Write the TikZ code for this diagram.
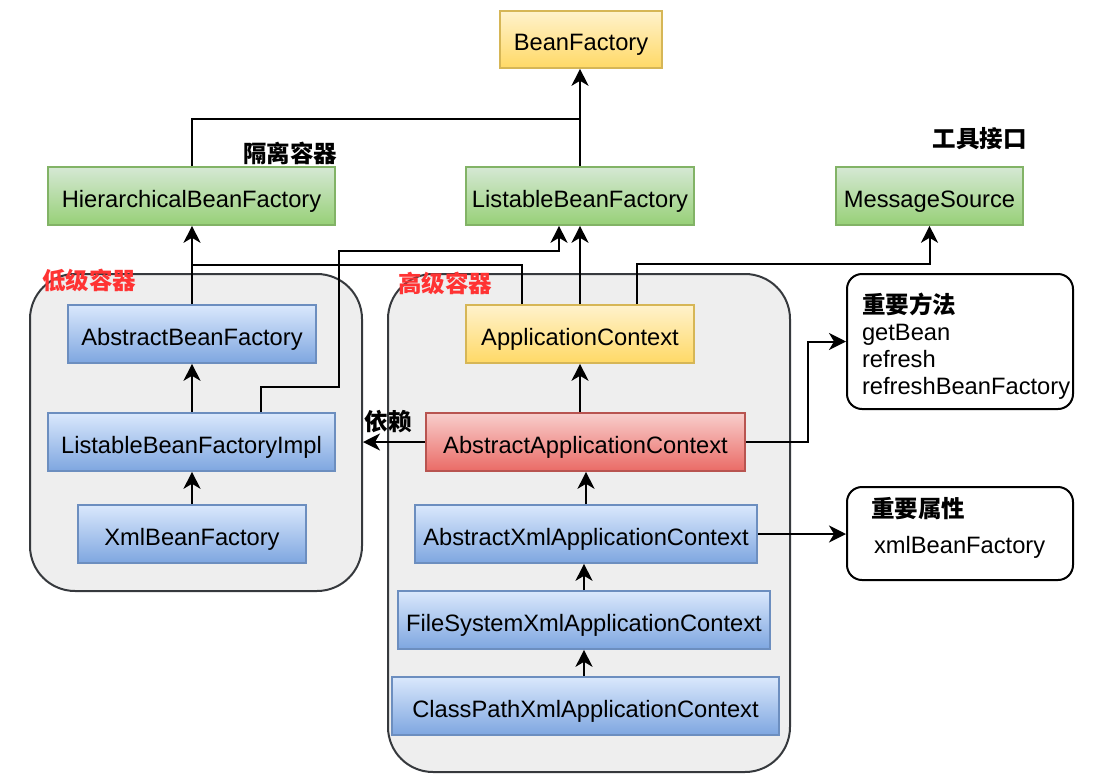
\documentclass[tikz,border=0pt]{standalone}
\usepackage{fontspec}
\setmainfont{Liberation Sans}
\newfontfamily\cjk{Noto Sans CJK SC}
\usetikzlibrary{arrows.meta}
\definecolor{ylwA}{HTML}{FFF2CC}\definecolor{ylwB}{HTML}{FFD966}\definecolor{ylwD}{HTML}{D6B656}
\definecolor{grnA}{HTML}{D5E8D4}\definecolor{grnB}{HTML}{97D077}\definecolor{grnD}{HTML}{82B366}
\definecolor{bluA}{HTML}{DAE8FC}\definecolor{bluB}{HTML}{7EA6E0}\definecolor{bluD}{HTML}{6C8EBF}
\definecolor{redA}{HTML}{F8CECC}\definecolor{redB}{HTML}{EA6B66}\definecolor{redD}{HTML}{B85450}
\definecolor{contF}{HTML}{EEEEEE}\definecolor{contD}{HTML}{36393D}
\definecolor{lblred}{HTML}{FF3333}
\begin{document}
\begin{tikzpicture}[x=1pt,y=-1pt,
  font=\fontsize{23.7}{28}\selectfont, line width=2pt,
  box/.style={draw, line width=1.6pt, inner sep=0pt, minimum height=58pt, text height=22pt, text depth=0pt},
  ybox/.style={box, top color=ylwA, bottom color=ylwB, draw=ylwD},
  gbox/.style={box, top color=grnA, bottom color=grnB, draw=grnD},
  bbox/.style={box, top color=bluA, bottom color=bluB, draw=bluD},
  rbox/.style={box, top color=redA, bottom color=redB, draw=redD},
  arr/.style={-{Stealth[length=17pt,width=17pt,inset=5pt]}, line width=2pt},
  groupbox/.style={draw=contD, fill=contF, rounded corners=45pt, line width=2pt, inner sep=0pt},
  notebox/.style={draw=black, fill=white, rounded corners=15pt, line width=2pt, inner sep=0pt},
  cjklabel/.style={font=\fontsize{23.5}{28}\selectfont\cjk\bfseries, inner sep=0pt},
  redlabel/.style={cjklabel, text=lblred},
  txt/.style={inner sep=0pt, anchor=base west}
]
\useasboundingbox (0,0) rectangle (1106,782);

% containers
\node[groupbox, minimum width=332pt, minimum height=317pt] (lowc) at (196,432.5) {};
\node[groupbox, minimum width=402pt, minimum height=498pt] (highc) at (589,523) {};

% boxes
\node[ybox, minimum width=162pt, minimum height=57pt] (bf) at (581,39.5) {BeanFactory};
\node[gbox, minimum width=287pt] (hbf) at (191.5,196) {HierarchicalBeanFactory};
\node[gbox, minimum width=228pt] (lbf) at (580,196) {ListableBeanFactory};
\node[gbox, minimum width=187pt] (ms) at (929.5,196) {MessageSource};
\node[bbox, minimum width=248pt] (abf) at (192,334) {AbstractBeanFactory};
\node[bbox, minimum width=287pt] (lbfi) at (191.5,442) {ListableBeanFactoryImpl};
\node[bbox, minimum width=228pt] (xbf) at (192,534) {XmlBeanFactory};
\node[ybox, minimum width=228pt] (ac) at (580,334) {ApplicationContext};
\node[rbox, minimum width=319pt] (aac) at (585.5,442) {AbstractApplicationContext};
\node[bbox, minimum width=342pt] (axac) at (586,534) {AbstractXmlApplicationContext};
\node[bbox, minimum width=372pt] (fsac) at (584,620) {FileSystemXmlApplicationContext};
\node[bbox, minimum width=387pt] (cpac) at (585.5,706) {ClassPathXmlApplicationContext};

% note boxes
\node[notebox, minimum width=226pt, minimum height=135pt] (methods) at (960,341.5) {};
\node[notebox, minimum width=226pt, minimum height=93pt] (props) at (960,533.5) {};

% labels
\node[cjklabel] (lblgeli) at (290,153) {隔离容器};
\node[cjklabel] (lbltool) at (979.5,139) {工具接口};
\node[redlabel] (lbllow) at (89,280) {低级容器};
\node[redlabel] (lblhigh) at (445,283) {高级容器};
\node[cjklabel] (lbldep) at (388,422) {依赖};

\node[txt, font=\fontsize{23.5}{28}\selectfont\cjk\bfseries] (m1) at (861,313) {重要方法};
\node[txt] (m2) at (861,340) {getBean};
\node[txt] (m3) at (861,367) {refresh};
\node[txt] (m4) at (861,394) {refreshBeanFactory};
\node[txt, font=\fontsize{23.5}{28}\selectfont\cjk\bfseries] (p1) at (870,517) {重要属性};
\node[txt] (p2) at (873,553) {xmlBeanFactory};

% junction coordinates
\coordinate (j1) at (580,119);
\coordinate (j2) at (192,265);
\coordinate (j3) at (637,264);

% connectors
\draw[arr] (lbf.north) -- (lbf.north |- bf.south);
\draw (hbf.north) |- (j1);
\draw[arr] (abf.north) -- (abf.north |- hbf.south);
\draw ([xshift=57pt]ac.north west) |- (j2);
\draw[arr] ([xshift=214pt]lbfi.north west) |- (339,387) |- (559,251) -- ([xshift=-21pt]lbf.south);
\draw[arr] (ac.north) -- (lbf.south);
\draw[arr] ([xshift=57pt]ac.north) -- (j3) -| (ms.south);
\draw[arr] (ac.south |- aac.north) -- (ac.south);
\draw[arr] (axac.north) -- (axac.north |- aac.south);
\draw[arr] (fsac.north) -- (fsac.north |- axac.south);
\draw[arr] (fsac.south |- cpac.north) -- (fsac.south);
\draw[arr] (xbf.north) -- (xbf.north |- lbfi.south);
\draw[arr] (abf.south |- lbfi.north) -- (abf.south);
\draw[arr] (aac.west) -- (aac.west -| lowc.east);
\draw[arr] (aac.east) -| ([xshift=-38pt]methods.west) -- (methods.west);
\draw[arr] (axac.east) -- (axac.east -| props.west);
\end{tikzpicture}
\end{document}
